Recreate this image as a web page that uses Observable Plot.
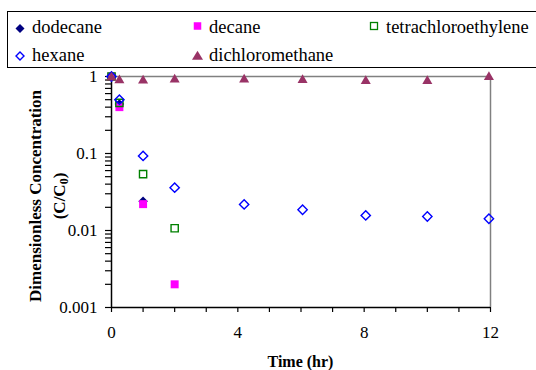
<!DOCTYPE html>
<html>
<head>
<meta charset="utf-8">
<script src="https://cdn.jsdelivr.net/npm/d3@7"></script>
<script src="https://cdn.jsdelivr.net/npm/@observablehq/plot@0.6"></script>
<style>
  html, body { margin: 0; padding: 0; background: #fff; }
  body { width: 536px; height: 370px; overflow: hidden; }
</style>
</head>
<body>
<div id="chart"></div>
<script>
// ---- data ----
const seriesNames = ["dodecane", "decane", "tetrachloroethylene", "hexane", "dichloromethane"];
const dodecaneTime = [0, 0.25, 1];
const dodecaneConc = [1, 0.44, 0.024];
const decaneTime = [0, 0.25, 1, 2];
const decaneConc = [1, 0.40, 0.022, 0.002];
const tetraTime = [0, 0.25, 1, 2];
const tetraConc = [1, 0.455, 0.054, 0.0107];
const hexaneTime = [0, 0.25, 1, 2, 4.2, 6.05, 8.05, 10, 11.95];
const hexaneConc = [1, 0.50, 0.093, 0.036, 0.0218, 0.0186, 0.0157, 0.0152, 0.0142];
const dcmTime = [0, 0.25, 1, 2, 4.2, 6.05, 8.05, 10, 11.95];
const dcmConc = [0.97, 0.89, 0.885, 0.91, 0.91, 0.9, 0.87, 0.87, 0.98];
const xTickLabels = [0, 4, 8, 12];
const yTickLabels = [1, 0.1, 0.01, 0.001];

const toRows = (t, c) => t.map((d, i) => ({time: d, conc: c[i]}));
const dodecane = toRows(dodecaneTime, dodecaneConc);
const decane = toRows(decaneTime, decaneConc);
const tetra = toRows(tetraTime, tetraConc);
const hexane = toRows(hexaneTime, hexaneConc);
const dcm = toRows(dcmTime, dcmConc);

const C_DODE = "#000080", C_DEC = "#FF00FF", C_TET = "#008000", C_HEX = "#0000FF", C_DCM = "#993366";
const SERIF = "Liberation Serif, Times New Roman, serif";

const yTicks = d3.scaleLog().domain([0.001, 1]).ticks();
const xTicks = d3.range(0, 13);

const chart = Plot.plot({
  width: 536,
  height: 370,
  marginLeft: 111,
  marginRight: 46,
  marginTop: 76,
  marginBottom: 63,
  style: {fontFamily: SERIF, fontSize: "17px", color: "#000", background: "#fff", overflow: "visible"},
  x: {domain: [0, 12]},
  y: {type: "log", domain: [0.001, 1]},
  marks: [
    Plot.ruleY([1], {stroke: "#808080", strokeWidth: 1.5}),
    Plot.ruleX([12], {stroke: "#808080", strokeWidth: 1.5}),
    Plot.axisX({ticks: xTicks, tickFormat: d => xTickLabels.includes(d) ? String(d) : "", tickSize: 5, tickPadding: 13, label: null, stroke: "#000", strokeWidth: 1.2}),
    Plot.axisY({ticks: yTicks, tickFormat: d => yTickLabels.includes(d) ? String(d) : "", tickSize: 6, tickPadding: 8, label: null, stroke: "#000", strokeWidth: 1.2}),
    Plot.ruleX([0], {stroke: "#000", strokeWidth: 1.5}),
    Plot.ruleY([0.001], {stroke: "#000", strokeWidth: 1.5}),
    Plot.dot(dodecane, {x: "time", y: "conc", symbol: "diamond2", r: 4.3, fill: C_DODE, stroke: "none"}),
    Plot.dot(decane, {x: "time", y: "conc", symbol: "square", r: 4.5, fill: C_DEC, stroke: "none"}),
    Plot.dot(tetra, {x: "time", y: "conc", symbol: "square2", r: 4.6, fill: "none", stroke: C_TET, strokeWidth: 1.4}),
    Plot.dot(hexane, {x: "time", y: "conc", symbol: "diamond2", r: 4.2, fill: "none", stroke: C_HEX, strokeWidth: 1.4}),
    Plot.dot(dcm, {x: "time", y: "conc", symbol: "triangle2", r: 4.8, fill: C_DCM, stroke: "none"})
  ]
});
document.getElementById("chart").appendChild(chart);

const svg = d3.select(chart);
// axis titles
svg.append("text")
  .attr("x", 300.5).attr("y", 367)
  .attr("text-anchor", "middle")
  .attr("font-family", SERIF)
  .attr("font-size", 16).attr("font-weight", "bold").attr("fill", "#000")
  .text("Time (hr)");
const yl = svg.append("text")
  .attr("transform", "translate(41,196) rotate(-90)")
  .attr("text-anchor", "middle")
  .attr("font-family", SERIF)
  .attr("font-size", 17).attr("font-weight", "bold").attr("fill", "#000");
yl.append("tspan").attr("x", 0).attr("y", 0).text("Dimensionless Concentration");
const yl2 = svg.append("text")
  .attr("transform", "translate(65,196) rotate(-90)")
  .attr("text-anchor", "middle")
  .attr("font-family", SERIF)
  .attr("font-size", 17).attr("font-weight", "bold").attr("fill", "#000");
yl2.append("tspan").text("(C/C");
yl2.append("tspan").attr("font-size", 12).attr("dy", 3).text("0");
yl2.append("tspan").attr("dy", -3).text(")");

// legend (inside the SVG)
const lg = svg.append("g").attr("text-anchor", "start");
lg.append("rect").attr("x", 7.5).attr("y", 11.5).attr("width", 560).attr("height", 56)
  .attr("fill", "#fff").attr("stroke", "#000").attr("stroke-width", 1);
const legendSym = {
  dodecane: (g) => g.append("path").attr("d", "M0,-4.5L4.5,0L0,4.5L-4.5,0Z").attr("fill", C_DODE),
  decane: (g) => g.append("rect").attr("x", -3.75).attr("y", -3.75).attr("width", 7.5).attr("height", 7.5).attr("fill", C_DEC),
  tetrachloroethylene: (g) => g.append("rect").attr("x", -3.5).attr("y", -3.5).attr("width", 7).attr("height", 7).attr("fill", "none").attr("stroke", C_TET).attr("stroke-width", 1.3),
  hexane: (g) => g.append("path").attr("d", "M0,-4L4,0L0,4L-4,0Z").attr("fill", "none").attr("stroke", C_HEX).attr("stroke-width", 1.4),
  dichloromethane: (g) => g.append("path").attr("d", "M0,-4.8L5.5,4.2L-5.5,4.2Z").attr("fill", C_DCM)
};
// [name, marker cx, marker cy, text x, text baseline]
const legendPos = [
  ["dodecane", 20, 28.5, 32, 32.5],
  ["decane", 197.5, 26, 209, 32.5],
  ["tetrachloroethylene", 374, 26, 386, 32.5],
  ["hexane", 20, 56, 32, 60.5],
  ["dichloromethane", 197.5, 55.5, 209, 60.5]
];
legendPos.forEach(([name, mx, my, tx, ty]) => {
  const g = lg.append("g").attr("transform", `translate(${mx},${my})`);
  legendSym[name](g);
  lg.append("text").attr("x", tx).attr("y", ty)
    .attr("text-anchor", "start")
    .attr("font-family", SERIF).attr("font-size", 18.5).attr("fill", "#000")
    .text(name);
});
</script>
</body>
</html>
